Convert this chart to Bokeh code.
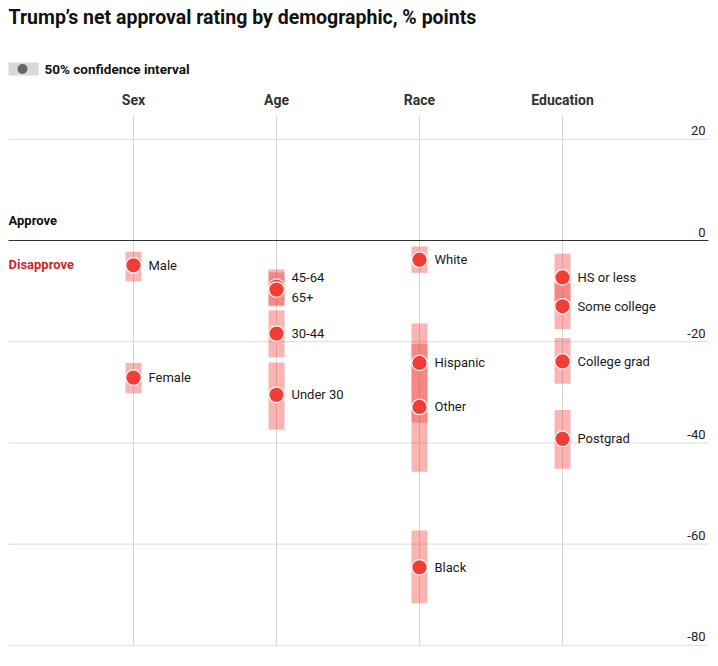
from bokeh.plotting import figure
from bokeh.models import Range1d, ColumnDataSource
from bokeh.embed import file_html
from bokeh.resources import INLINE
from bokeh.core.properties import value

# ---------------- data ----------------
groups = ["Sex", "Age", "Race", "Education"]

sex_labels = ["Male", "Female"]
sex_net = [-4.9, -27.1]
sex_lo = [-8.1, -30.2]
sex_hi = [-2.2, -24.2]

age_labels = ["45-64", "65+", "30-44", "Under 30"]
age_net = [-9.1, -9.7, -18.4, -30.5]
age_lo = [-12.8, -13.0, -23.1, -37.4]
age_hi = [-5.7, -6.3, -13.8, -24.1]

race_labels = ["White", "Hispanic", "Other", "Black"]
race_net = [-3.8, -24.2, -32.9, -64.6]
race_lo = [-6.4, -36.0, -45.7, -71.7]
race_hi = [-1.2, -16.4, -20.4, -57.3]

edu_labels = ["HS or less", "Some college", "College grad", "Postgrad"]
edu_net = [-7.3, -13.0, -23.9, -39.2]
edu_lo = [-11.9, -17.5, -28.3, -45.1]
edu_hi = [-2.6, -8.5, -19.3, -33.5]

y_ticks = [20, 0, -20, -40, -60, -80]
y_tick_labels = ["20", "0", "-20", "-40", "-60", "-80"]

# label nudges (pixels) to avoid overlapping text
label_nudge = {"45-64": -9, "65+": 8}

# ---------------- layout helpers ----------------
W, H = 710, 658
PX_Y = 5.06      # pixels per point
Y0 = 240         # picture y of zero line
X0, XSTEP = 133, 143


def ydat(py):
    return (Y0 - py) / PX_Y


def xdat(px):
    return (px - X0) / XSTEP


FONT = value("Roboto")
RED = "#f23d37"

p = figure(width=W, height=H, output_backend="svg", toolbar_location=None,
           x_range=Range1d(xdat(0), xdat(W)),
           y_range=Range1d(ydat(H), ydat(0)),
           x_axis_type=None, y_axis_type=None, min_border=0)
p.outline_line_color = None
p.grid.visible = False
p.background_fill_color = "white"

# horizontal gridlines
grid_vals = [v for v in y_ticks if v != 0]
p.segment(x0=[xdat(8)] * len(grid_vals), x1=[xdat(708)] * len(grid_vals),
          y0=grid_vals, y1=grid_vals, line_color="#dcdcdc", line_width=1)
# vertical gridlines
cols = list(range(len(groups)))
p.segment(x0=cols, x1=cols, y0=[ydat(115)] * len(cols), y1=[min(y_ticks)] * len(cols),
          line_color="#d6d6d6", line_width=1)
# zero line
p.segment(x0=[xdat(8)], x1=[xdat(708)], y0=[0], y1=[0], line_color="#333333", line_width=1.2)

# tick labels
p.text(x=[xdat(705)] * len(y_ticks), y=y_ticks, text=y_tick_labels,
       text_align="right", text_baseline="bottom", y_offset=-4,
       text_font=FONT, text_font_size="13px", text_color="#222222")

# column headers
p.text(x=cols, y=[ydat(99)] * len(cols), text=groups, text_align="center",
       text_baseline="middle", text_font=FONT, text_font_size="14px",
       text_font_style="bold", text_color="#333333")

# approve / disapprove
p.text(x=[xdat(8)], y=[ydat(220)], text=["Approve"], text_align="left",
       text_baseline="middle", text_font=FONT, text_font_size="13px",
       text_font_style="bold", text_color="#111111")
p.text(x=[xdat(8)], y=[ydat(264)], text=["Disapprove"], text_align="left",
       text_baseline="middle", text_font=FONT, text_font_size="13px",
       text_font_style="bold", text_color="#d0252b")

# title
p.text(x=[xdat(8)], y=[ydat(17)], text=["Trump\u2019s net approval rating by demographic, % points"],
       text_align="left", text_baseline="middle", text_font=FONT,
       text_font_size="19.5px", text_font_style="bold", text_color="#111111")

# legend
p.quad(left=[xdat(8)], right=[xdat(38)], top=[ydat(62)], bottom=[ydat(75)],
       fill_color="#d9d9d9", line_color=None)
p.scatter(x=[xdat(22)], y=[ydat(68.5)], size=10, fill_color="#666666", line_color=None)
p.text(x=[xdat(44)], y=[ydat(68.5)], text=["50% confidence interval"], text_align="left",
       text_baseline="middle", text_font=FONT, text_font_size="13.5px",
       text_font_style="bold", text_color="#111111")

# data
all_sets = [
    (sex_labels, sex_net, sex_lo, sex_hi),
    (age_labels, age_net, age_lo, age_hi),
    (race_labels, race_net, race_lo, race_hi),
    (edu_labels, edu_net, edu_lo, edu_hi),
]
xs, nets, los, his, labs, offs = [], [], [], [], [], []
for ci, (lab, net, lo, hi) in enumerate(all_sets):
    for l, n, a, b in zip(lab, net, lo, hi):
        xs.append(ci)
        nets.append(n)
        los.append(a)
        his.append(b)
        labs.append(l)
        offs.append(label_nudge.get(l, 0))

src = ColumnDataSource(dict(x=xs, net=nets, lo=los, hi=his, label=labs, off=offs))

p.vbar(x="x", width=16 / XSTEP, top="hi", bottom="lo", source=src,
       fill_color=RED, fill_alpha=0.38, line_color=None)
p.scatter(x="x", y="net", source=src, size=15.5, fill_color=RED,
          line_color="white", line_width=1.2)
p.text(x="x", y="net", text="label", source=src, x_offset=15, y_offset="off",
       text_align="left", text_baseline="middle", text_font=FONT,
       text_font_size="13px", text_color="#1a1a1a")

open("out.html", "w").write(file_html(p, INLINE))
